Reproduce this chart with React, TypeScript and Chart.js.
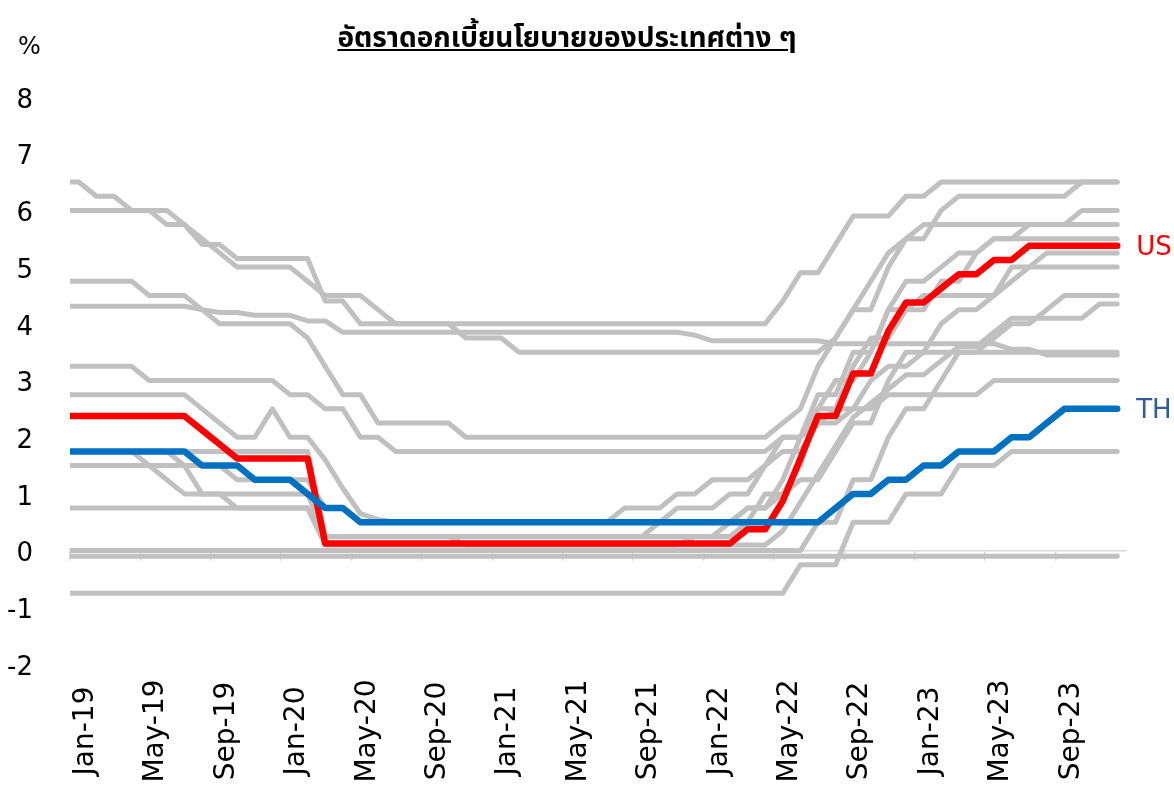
import { useEffect, useRef } from 'react';
import { Chart, registerables } from 'chart.js';

Chart.register(...registerables);

// Month labels: Dec-18 (kept only so the lines run into the left edge) to Dec-23
const MONTH_NAMES = ['Jan', 'Feb', 'Mar', 'Apr', 'May', 'Jun', 'Jul', 'Aug', 'Sep', 'Oct', 'Nov', 'Dec'];
const YEARS = ['19', '20', '21', '22', '23'];
const months: string[] = ['Dec-18'];
YEARS.forEach((y) => MONTH_NAMES.forEach((m) => months.push(`${m}-${y}`)));

const FIRST_SHOWN = 'Jan-19';
const LABEL_EVERY = 4;
const Y_MIN = -2;
const Y_MAX = 8;

// Policy rates (%), Dec-18 first, then Jan..Dec for 2019..2023
const US = [
  2.375,
  2.375, 2.375, 2.375, 2.375, 2.375, 2.375, 2.375, 2.125, 1.875, 1.625, 1.625, 1.625,
  1.625, 1.625, 0.125, 0.125, 0.125, 0.125, 0.125, 0.125, 0.125, 0.125, 0.125, 0.125,
  0.125, 0.125, 0.125, 0.125, 0.125, 0.125, 0.125, 0.125, 0.125, 0.125, 0.125, 0.125,
  0.125, 0.125, 0.375, 0.375, 0.875, 1.625, 2.375, 2.375, 3.125, 3.125, 3.875, 4.375,
  4.375, 4.625, 4.875, 4.875, 5.125, 5.125, 5.375, 5.375, 5.375, 5.375, 5.375, 5.375,
];
const TH = [
  1.75,
  1.75, 1.75, 1.75, 1.75, 1.75, 1.75, 1.75, 1.5, 1.5, 1.5, 1.25, 1.25,
  1.25, 1.0, 0.75, 0.75, 0.5, 0.5, 0.5, 0.5, 0.5, 0.5, 0.5, 0.5,
  0.5, 0.5, 0.5, 0.5, 0.5, 0.5, 0.5, 0.5, 0.5, 0.5, 0.5, 0.5,
  0.5, 0.5, 0.5, 0.5, 0.5, 0.5, 0.5, 0.75, 1.0, 1.0, 1.25, 1.25,
  1.5, 1.5, 1.75, 1.75, 1.75, 2.0, 2.0, 2.25, 2.5, 2.5, 2.5, 2.5,
];
const INDIA = [
  6.5,
  6.5, 6.25, 6.25, 6.0, 6.0, 5.75, 5.75, 5.4, 5.4, 5.15, 5.15, 5.15,
  5.15, 5.15, 4.4, 4.4, 4.0, 4.0, 4.0, 4.0, 4.0, 4.0, 4.0, 4.0,
  4.0, 4.0, 4.0, 4.0, 4.0, 4.0, 4.0, 4.0, 4.0, 4.0, 4.0, 4.0,
  4.0, 4.0, 4.0, 4.0, 4.4, 4.9, 4.9, 5.4, 5.9, 5.9, 5.9, 6.25,
  6.25, 6.5, 6.5, 6.5, 6.5, 6.5, 6.5, 6.5, 6.5, 6.5, 6.5, 6.5,
];
const INDONESIA = [
  6.0,
  6.0, 6.0, 6.0, 6.0, 6.0, 6.0, 5.75, 5.5, 5.25, 5.0, 5.0, 5.0,
  5.0, 4.75, 4.5, 4.5, 4.5, 4.25, 4.0, 4.0, 4.0, 4.0, 3.75, 3.75,
  3.75, 3.5, 3.5, 3.5, 3.5, 3.5, 3.5, 3.5, 3.5, 3.5, 3.5, 3.5,
  3.5, 3.5, 3.5, 3.5, 3.5, 3.5, 3.5, 3.75, 4.25, 4.75, 5.25, 5.5,
  5.75, 5.75, 5.75, 5.75, 5.75, 5.75, 5.75, 5.75, 5.75, 6.0, 6.0, 6.0,
];
const PHILIPPINES = [
  4.75,
  4.75, 4.75, 4.75, 4.75, 4.5, 4.5, 4.5, 4.25, 4.0, 4.0, 4.0, 4.0,
  4.0, 3.75, 3.25, 2.75, 2.75, 2.25, 2.25, 2.25, 2.25, 2.25, 2.0, 2.0,
  2.0, 2.0, 2.0, 2.0, 2.0, 2.0, 2.0, 2.0, 2.0, 2.0, 2.0, 2.0,
  2.0, 2.0, 2.0, 2.0, 2.25, 2.5, 3.25, 3.75, 4.25, 4.25, 5.0, 5.5,
  5.5, 6.0, 6.25, 6.25, 6.25, 6.25, 6.25, 6.25, 6.25, 6.5, 6.5, 6.5,
];
const CHINA = [
  4.31,
  4.31, 4.31, 4.31, 4.31, 4.31, 4.31, 4.31, 4.25, 4.2, 4.2, 4.15, 4.15,
  4.15, 4.05, 4.05, 3.85, 3.85, 3.85, 3.85, 3.85, 3.85, 3.85, 3.85, 3.85,
  3.85, 3.85, 3.85, 3.85, 3.85, 3.85, 3.85, 3.85, 3.85, 3.85, 3.85, 3.8,
  3.7, 3.7, 3.7, 3.7, 3.7, 3.7, 3.7, 3.65, 3.65, 3.65, 3.65, 3.65,
  3.65, 3.65, 3.65, 3.65, 3.65, 3.55, 3.55, 3.45, 3.45, 3.45, 3.45, 3.45,
];
const MALAYSIA = [
  3.25,
  3.25, 3.25, 3.25, 3.25, 3.0, 3.0, 3.0, 3.0, 3.0, 3.0, 3.0, 3.0,
  2.75, 2.75, 2.5, 2.5, 2.0, 2.0, 1.75, 1.75, 1.75, 1.75, 1.75, 1.75,
  1.75, 1.75, 1.75, 1.75, 1.75, 1.75, 1.75, 1.75, 1.75, 1.75, 1.75, 1.75,
  1.75, 1.75, 1.75, 1.75, 2.0, 2.0, 2.25, 2.25, 2.5, 2.5, 2.75, 2.75,
  2.75, 2.75, 2.75, 2.75, 3.0, 3.0, 3.0, 3.0, 3.0, 3.0, 3.0, 3.0,
];
const HONG_KONG = [
  2.75,
  2.75, 2.75, 2.75, 2.75, 2.75, 2.75, 2.75, 2.5, 2.25, 2.0, 2.0, 2.5,
  2.0, 2.0, 1.6, 1.1, 0.65, 0.55, 0.5, 0.5, 0.5, 0.5, 0.5, 0.5,
  0.5, 0.5, 0.5, 0.5, 0.5, 0.5, 0.5, 0.5, 0.5, 0.5, 0.5, 0.5,
  0.5, 0.5, 0.75, 0.75, 1.25, 2.0, 2.75, 2.75, 3.5, 3.5, 4.25, 4.75,
  4.75, 5.0, 5.25, 5.25, 5.5, 5.5, 5.75, 5.75, 5.75, 5.75, 5.75, 5.75,
];
const KOREA = [
  1.75,
  1.75, 1.75, 1.75, 1.75, 1.75, 1.75, 1.5, 1.5, 1.5, 1.25, 1.25, 1.25,
  1.25, 1.25, 0.75, 0.75, 0.5, 0.5, 0.5, 0.5, 0.5, 0.5, 0.5, 0.5,
  0.5, 0.5, 0.5, 0.5, 0.5, 0.5, 0.5, 0.75, 0.75, 0.75, 1.0, 1.0,
  1.25, 1.25, 1.25, 1.5, 1.75, 1.75, 2.25, 2.5, 2.5, 3.0, 3.25, 3.25,
  3.5, 3.5, 3.5, 3.5, 3.5, 3.5, 3.5, 3.5, 3.5, 3.5, 3.5, 3.5,
];
const CANADA = [
  1.75,
  1.75, 1.75, 1.75, 1.75, 1.75, 1.75, 1.75, 1.75, 1.75, 1.75, 1.75, 1.75,
  1.75, 1.75, 0.25, 0.25, 0.25, 0.25, 0.25, 0.25, 0.25, 0.25, 0.25, 0.25,
  0.25, 0.25, 0.25, 0.25, 0.25, 0.25, 0.25, 0.25, 0.25, 0.25, 0.25, 0.25,
  0.25, 0.25, 0.5, 1.0, 1.0, 1.5, 2.5, 2.5, 3.25, 3.75, 3.75, 4.25,
  4.5, 4.5, 4.5, 4.5, 4.5, 4.75, 5.0, 5.0, 5.0, 5.0, 5.0, 5.0,
];
const NEW_ZEALAND = [
  1.75,
  1.75, 1.75, 1.75, 1.75, 1.5, 1.5, 1.5, 1.0, 1.0, 1.0, 1.0, 1.0,
  1.0, 1.0, 0.25, 0.25, 0.25, 0.25, 0.25, 0.25, 0.25, 0.25, 0.25, 0.25,
  0.25, 0.25, 0.25, 0.25, 0.25, 0.25, 0.25, 0.25, 0.25, 0.5, 0.75, 0.75,
  0.75, 1.0, 1.0, 1.5, 2.0, 2.0, 2.5, 3.0, 3.0, 3.5, 4.25, 4.25,
  4.25, 4.75, 4.75, 5.25, 5.5, 5.5, 5.5, 5.5, 5.5, 5.5, 5.5, 5.5,
];
const AUSTRALIA = [
  1.5,
  1.5, 1.5, 1.5, 1.5, 1.5, 1.25, 1.0, 1.0, 1.0, 0.75, 0.75, 0.75,
  0.75, 0.75, 0.25, 0.25, 0.25, 0.25, 0.25, 0.25, 0.25, 0.25, 0.1, 0.1,
  0.1, 0.1, 0.1, 0.1, 0.1, 0.1, 0.1, 0.1, 0.1, 0.1, 0.1, 0.1,
  0.1, 0.1, 0.1, 0.1, 0.35, 0.85, 1.35, 1.85, 2.35, 2.6, 2.85, 3.1,
  3.1, 3.35, 3.6, 3.6, 3.85, 4.1, 4.1, 4.1, 4.1, 4.1, 4.35, 4.35,
];
const UK = [
  0.75,
  0.75, 0.75, 0.75, 0.75, 0.75, 0.75, 0.75, 0.75, 0.75, 0.75, 0.75, 0.75,
  0.75, 0.75, 0.1, 0.1, 0.1, 0.1, 0.1, 0.1, 0.1, 0.1, 0.1, 0.1,
  0.1, 0.1, 0.1, 0.1, 0.1, 0.1, 0.1, 0.1, 0.1, 0.1, 0.1, 0.25,
  0.25, 0.5, 0.75, 0.75, 1.0, 1.25, 1.25, 1.75, 2.25, 2.25, 3.0, 3.5,
  3.5, 4.0, 4.25, 4.25, 4.5, 5.0, 5.0, 5.25, 5.25, 5.25, 5.25, 5.25,
];
const EURO_AREA = [
  0,
  0, 0, 0, 0, 0, 0, 0, 0, 0, 0, 0, 0,
  0, 0, 0, 0, 0, 0, 0, 0, 0, 0, 0, 0,
  0, 0, 0, 0, 0, 0, 0, 0, 0, 0, 0, 0,
  0, 0, 0, 0, 0, 0, 0.5, 0.5, 1.25, 1.25, 2.0, 2.5,
  2.5, 3.0, 3.5, 3.5, 3.75, 4.0, 4.0, 4.25, 4.5, 4.5, 4.5, 4.5,
];
const JAPAN = [
  -0.1,
  -0.1, -0.1, -0.1, -0.1, -0.1, -0.1, -0.1, -0.1, -0.1, -0.1, -0.1, -0.1,
  -0.1, -0.1, -0.1, -0.1, -0.1, -0.1, -0.1, -0.1, -0.1, -0.1, -0.1, -0.1,
  -0.1, -0.1, -0.1, -0.1, -0.1, -0.1, -0.1, -0.1, -0.1, -0.1, -0.1, -0.1,
  -0.1, -0.1, -0.1, -0.1, -0.1, -0.1, -0.1, -0.1, -0.1, -0.1, -0.1, -0.1,
  -0.1, -0.1, -0.1, -0.1, -0.1, -0.1, -0.1, -0.1, -0.1, -0.1, -0.1, -0.1,
];
const SWITZERLAND = [
  -0.75,
  -0.75, -0.75, -0.75, -0.75, -0.75, -0.75, -0.75, -0.75, -0.75, -0.75, -0.75, -0.75,
  -0.75, -0.75, -0.75, -0.75, -0.75, -0.75, -0.75, -0.75, -0.75, -0.75, -0.75, -0.75,
  -0.75, -0.75, -0.75, -0.75, -0.75, -0.75, -0.75, -0.75, -0.75, -0.75, -0.75, -0.75,
  -0.75, -0.75, -0.75, -0.75, -0.75, -0.25, -0.25, -0.25, 0.5, 0.5, 0.5, 1.0,
  1.0, 1.0, 1.5, 1.5, 1.5, 1.75, 1.75, 1.75, 1.75, 1.75, 1.75, 1.75,
];

const GRAY_SERIES: [string, number[]][] = [
  ['India', INDIA],
  ['Indonesia', INDONESIA],
  ['Philippines', PHILIPPINES],
  ['China', CHINA],
  ['Malaysia', MALAYSIA],
  ['Hong Kong', HONG_KONG],
  ['Korea', KOREA],
  ['Canada', CANADA],
  ['New Zealand', NEW_ZEALAND],
  ['Australia', AUSTRALIA],
  ['UK', UK],
  ['Euro area', EURO_AREA],
  ['Japan', JAPAN],
  ['Switzerland', SWITZERLAND],
];

const TITLE = 'อัตราดอกเบี้ยนโยบายของประเทศต่าง ๆ';
const UNIT = '%';

const FONT = '"DejaVu Sans", Tahoma, Verdana, sans-serif';
const GRAY = '#c0c0c0';
const RED = '#ff0000';
const BLUE = '#0070c0';

export default function App() {
  const ref = useRef<HTMLCanvasElement>(null);

  useEffect(() => {
    if (!ref.current) return;

    // "US" / "TH" tags placed just right of each series' last point
    const endLabels = {
      id: 'endLabels',
      afterDatasetsDraw(chart: any) {
        const ctx = chart.ctx;
        chart.data.datasets.forEach((ds: any, i: number) => {
          if (!ds.endLabel) return;
          const meta = chart.getDatasetMeta(i);
          const pt = meta.data[meta.data.length - 1];
          ctx.save();
          ctx.font = `26px ${FONT}`;
          ctx.fillStyle = ds.endLabelColor;
          ctx.textAlign = 'left';
          ctx.textBaseline = 'middle';
          ctx.fillText(ds.endLabel, pt.x + 19, pt.y + 2);
          ctx.restore();
        });
      },
    };

    // month labels, rotated and centred (as in the source chart)
    const monthLabels = {
      id: 'monthLabels',
      afterDraw(chart: any) {
        const scale = chart.scales.x;
        const ctx = chart.ctx;
        ctx.save();
        ctx.font = `28px ${FONT}`;
        ctx.fillStyle = '#000';
        ctx.textAlign = 'center';
        ctx.textBaseline = 'middle';
        scale.ticks.forEach((t: any, i: number) => {
          if (i % LABEL_EVERY !== 0) return;
          const x = scale.getPixelForValue(t.value) + 7;
          ctx.save();
          ctx.translate(x, 731);
          ctx.rotate(-Math.PI / 2);
          ctx.fillText(scale.getLabelForValue(t.value), 0, 0);
          ctx.restore();
        });
        ctx.restore();
      },
    };

    const common = {
      pointRadius: 0,
      pointHoverRadius: 0,
      tension: 0,
      fill: false,
      clip: 0,
      borderJoinStyle: 'round',
      borderCapStyle: 'round',
    };

    const datasets: any[] = [
      { ...common, label: 'TH', data: TH, borderColor: BLUE, borderWidth: 6.5, endLabel: 'TH', endLabelColor: '#2e5d97' },
      { ...common, label: 'US', data: US, borderColor: RED, borderWidth: 6.5, endLabel: 'US', endLabelColor: RED },
      ...GRAY_SERIES.map(([name, values]) => ({
        ...common,
        label: name,
        data: values,
        borderColor: GRAY,
        borderWidth: 5,
      })),
    ];

    const chart = new Chart(ref.current, {
      type: 'line',
      data: { labels: months, datasets },
      options: {
        animation: false,
        responsive: false,
        devicePixelRatio: 1,
        layout: { padding: { top: 97, right: 48, bottom: 0, left: 0 } },
        plugins: {
          legend: { display: false },
          tooltip: { enabled: false },
        },
        scales: {
          x: {
            type: 'category',
            min: FIRST_SHOWN,
            offset: true,
            grid: { display: false, drawTicks: false },
            border: { display: false },
            ticks: { display: false, autoSkip: false },
            afterFit(scale: any) {
              scale.height = 122;
            },
          },
          x2: {
            type: 'category',
            position: { y: 0 },
            min: FIRST_SHOWN,
            offset: true,
            grid: {
              offset: true,
              drawOnChartArea: false,
              drawTicks: true,
              tickLength: 9,
              lineWidth: 1.5,
              color: (c: any) => (c.index % LABEL_EVERY === 0 ? '#d9d9d9' : 'rgba(0,0,0,0)'),
            },
            border: { display: true, color: '#d9d9d9', width: 1.5 },
            ticks: { display: false },
          },
          y: {
            min: Y_MIN,
            max: Y_MAX,
            grid: { display: false, drawTicks: false },
            border: { display: false },
            ticks: {
              stepSize: 1,
              padding: 37,
              labelOffset: 4,
              color: '#000',
              font: { family: FONT, size: 26 },
            },
            afterFit(scale: any) {
              scale.width = 70;
            },
          },
        },
      } as any,
      plugins: [endLabels, monthLabels],
    });

    return () => chart.destroy();
  }, []);

  return (
    <div style={{ position: 'fixed', left: 0, top: 0, width: 1174, height: 786, background: '#fff', overflow: 'hidden' }}>
      <canvas ref={ref} width={1174} height={786} style={{ position: 'absolute', left: 0, top: 0 }} />
      <div
        style={{
          position: 'absolute',
          left: 0,
          top: 20,
          width: 1134,
          textAlign: 'center',
          fontFamily: 'Tahoma, "Noto Sans Thai", "Noto Sans Thai UI", "Noto Sans", sans-serif',
          fontWeight: 'bold',
          fontSize: 28,
          lineHeight: '38px',
          textDecoration: 'underline',
          color: '#000',
        }}
      >
        {TITLE}
      </div>
      <div
        style={{
          position: 'absolute',
          left: 18,
          top: 32,
          fontFamily: FONT,
          fontSize: 24,
          lineHeight: '28px',
          color: '#000',
        }}
      >
        {UNIT}
      </div>
    </div>
  );
}
